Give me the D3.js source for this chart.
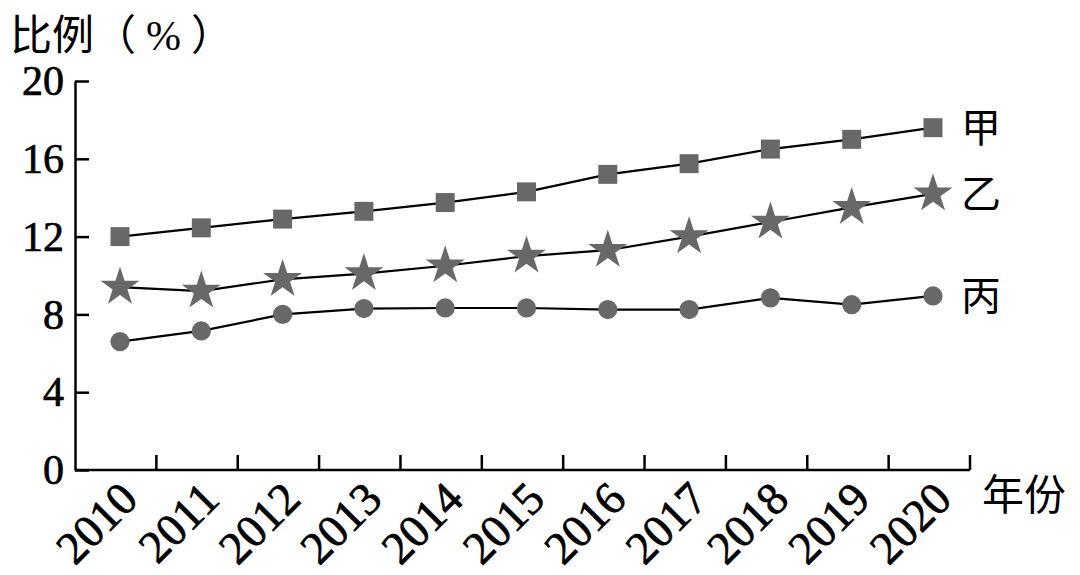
<!DOCTYPE html>
<html lang="zh">
<head>
<meta charset="UTF-8">
<title>比例</title>
<script src="https://d3js.org/d3.v7.min.js"></script>
<style>
  body, html { margin: 0; background: #fff; }
  svg { display: block; }
</style>
</head>
<body>
<div id="chart"></div>
<script>
// data
var years = ["2010","2011","2012","2013","2014","2015","2016","2017","2018","2019","2020"];
var jia  = [12.0, 12.45, 12.9, 13.3, 13.75, 14.3, 15.2, 15.75, 16.5, 17.0, 17.6];
var yi   = [9.4, 9.2, 9.8, 10.1, 10.5, 11.0, 11.3, 12.0, 12.75, 13.5, 14.2];
var bing = [6.6, 7.15, 8.0, 8.3, 8.33, 8.33, 8.25, 8.25, 8.85, 8.5, 8.95];
var yTicks = [0, 4, 8, 12, 16, 20];

var W = 1080, H = 575;
var margin = {top: 81, right: 110, bottom: 105, left: 75},
    width = W - margin.left - margin.right,
    height = H - margin.top - margin.bottom;

var serif = "'Liberation Serif', 'DejaVu Serif', serif";
var cjk = "'Noto Sans CJK SC', sans-serif";
var grey = "#686868";

var svg = d3.select("#chart").append("svg")
    .attr("width", W).attr("height", H);
var g = svg.append("g")
    .attr("transform", "translate(" + margin.left + "," + margin.top + ")");

// band scale for the tick marks, point scale for the data marks
var xb = d3.scaleBand().domain(years).range([0, width]);
var x = d3.scalePoint().domain(years).range([45, width - 37]);
var y = d3.scaleLinear().domain([0, 20]).range([height, 0]);

// axes
var yAxis = g.append("g")
    .call(d3.axisRight(y).tickValues(yTicks).tickSize(14).tickSizeOuter(0).tickFormat(""));
yAxis.select(".domain").attr("stroke-width", 2.5);
yAxis.selectAll(".tick line").attr("stroke-width", 2.5);

g.selectAll(".ylab").data(yTicks).enter().append("text")
    .attr("x", -11).attr("y", function(d) { return y(d); })
    .attr("dy", "0.34em")
    .attr("text-anchor", "end")
    .style("font-family", serif).style("font-size", "42px")
    .attr("stroke", "#000").attr("stroke-width", 0.7)
    .text(function(d) { return d; });

var xAxis = g.append("g")
    .attr("transform", "translate(0," + height + ")");
xAxis.append("line").attr("x1", 0).attr("x2", width)
    .attr("stroke", "#000").attr("stroke-width", 2.5);
xAxis.selectAll(".xt").data(years).enter().append("line")
    .attr("x1", function(d) { return xb(d) + xb.bandwidth(); })
    .attr("x2", function(d) { return xb(d) + xb.bandwidth(); })
    .attr("y1", 0).attr("y2", -15)
    .attr("stroke", "#000").attr("stroke-width", 2.5);
xAxis.selectAll(".xl").data(years).enter().append("text")
    .attr("transform", function(d) {
        return "translate(" + (xb(d) + xb.bandwidth() / 2 + 1) + ",8) rotate(-45)";
    })
    .attr("text-anchor", "end").attr("dy", "0.72em")
    .style("font-family", serif).style("font-size", "46px")
    .attr("stroke", "#000").attr("stroke-width", 0.7)
    .text(function(d) { return d; });

// titles
var title = svg.append("text").attr("x", 10).attr("y", 50)
    .style("font-family", cjk).style("font-size", "42px");
title.append("tspan").text("比例（");
title.append("tspan").style("font-family", serif).attr("dx", 10).text("%");
title.append("tspan").attr("dx", 10).text("）");

svg.append("text").attr("x", margin.left + width + 12).attr("y", margin.top + height + 40)
    .style("font-family", cjk).style("font-size", "42px")
    .text("年份");

// lines + markers
var line = d3.line()
    .x(function(d, i) { return x(years[i]); })
    .y(function(d) { return y(d); });

var series = [
    {name: "甲", values: jia, symbol: d3.symbolSquare, size: 360},
    {name: "乙", values: yi, symbol: d3.symbolStar, size: 470},
    {name: "丙", values: bing, symbol: d3.symbolCircle, size: 290}
];

series.forEach(function(s) {
    g.append("path").datum(s.values)
        .attr("fill", "none").attr("stroke", "#000").attr("stroke-width", 2.2)
        .attr("d", line);
    g.selectAll(null).data(s.values).enter().append("path")
        .attr("d", d3.symbol().type(s.symbol).size(s.size))
        .attr("transform", function(d, i) {
            return "translate(" + x(years[i]) + "," + y(d) + ")";
        })
        .attr("fill", grey);
    var last = s.values[s.values.length - 1];
    g.append("text")
        .attr("x", x(years[years.length - 1]) + 28)
        .attr("y", y(last)).attr("dy", "0.36em")
        .style("font-family", cjk).style("font-size", "40px")
        .text(s.name);
});
</script>
</body>
</html>
